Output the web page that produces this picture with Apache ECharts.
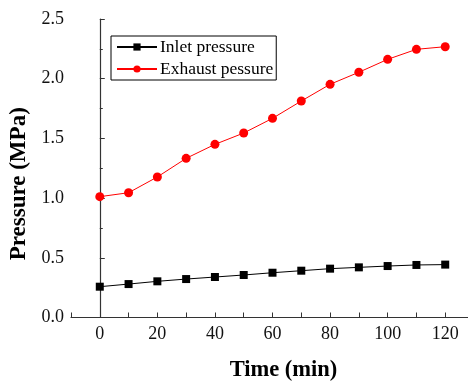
<!DOCTYPE html>
<html>
<head>
<meta charset="utf-8">
<script src="https://cdn.jsdelivr.net/npm/echarts@6/dist/echarts.min.js"></script>
<style>
  html, body {margin: 0; padding: 0; background: #fff;}
  #main {width: 468px; height: 383px;}
</style>
</head>
<body>
<div id="main"></div>
<script>
const times = [0, 10, 20, 30, 40, 50, 60, 70, 80, 90, 100, 110, 120];
const inletPressure = [0.258, 0.28, 0.303, 0.322, 0.339, 0.356, 0.375, 0.392, 0.409, 0.42, 0.431, 0.44, 0.443];
const exhaustPressure = [1.012, 1.045, 1.177, 1.333, 1.45, 1.545, 1.668, 1.813, 1.953, 2.054, 2.162, 2.246, 2.268];

const font = "'Liberation Serif', 'Times New Roman', serif";
const axisColor = '#333';

const pairs = (ys) => times.map((t, i) => [t, ys[i]]);

const chart = echarts.init(document.getElementById('main'), null, {renderer: 'canvas'});

chart.setOption({
  animation: false,
  textStyle: {fontFamily: font},
  grid: {left: 71, top: 19, right: -6, bottom: 65.5, containLabel: false, outerBoundsMode: 'none'},
  legend: {
    orient: 'vertical',
    left: 111,
    top: 36,
    borderColor: '#000',
    borderWidth: 1,
    padding: [2, 3, 2, 5],
    itemGap: 4,
    itemWidth: 40,
    itemHeight: 9,
    textStyle: {fontFamily: font, fontSize: 17.5, color: '#000', padding: [0, 0, 0, -2]},
    data: ['Inlet pressure', 'Exhaust pessure']
  },
  xAxis: {
    type: 'value',
    min: -10,
    max: 130,
    interval: 10,
    name: 'Time (min)',
    nameLocation: 'middle',
    nameGap: 41,
    nameTextStyle: {fontFamily: font, fontSize: 22.5, fontWeight: 'bold', color: '#000', padding: [0, 0, 0, 22]},
    axisLine: {lineStyle: {color: axisColor, width: 1.2}},
    axisTick: {inside: true, length: 5, lineStyle: {color: axisColor}},
    axisLabel: {
      fontFamily: font, fontSize: 18, color: '#111', margin: 8,
      formatter: (v) => (v >= 0 && v <= 120 && v % 20 === 0) ? String(v) : ''
    },
    splitLine: {show: false}
  },
  yAxis: {
    type: 'value',
    min: 0,
    max: 2.5,
    interval: 0.5,
    name: 'Pressure (MPa)',
    nameLocation: 'middle',
    nameGap: 36,
    nameTextStyle: {fontFamily: font, fontSize: 23, fontWeight: 'bold', color: '#000', padding: [0, 31, 0, 0]},
    axisLine: {show: true, lineStyle: {color: axisColor, width: 1.2}},
    axisTick: {show: true, inside: true, length: 5, lineStyle: {color: axisColor}},
    minorTick: {show: true, splitNumber: 2, length: 3, lineStyle: {color: axisColor}},
    axisLabel: {
      fontFamily: font, fontSize: 18, color: '#111', margin: 7,
      formatter: (v) => v.toFixed(1)
    },
    splitLine: {show: false}
  },
  series: [
    {
      name: 'Inlet pressure',
      type: 'line',
      data: pairs(inletPressure),
      symbol: 'rect',
      symbolSize: 8,
      itemStyle: {color: '#000'},
      lineStyle: {color: '#000', width: 1}
    },
    {
      name: 'Exhaust pessure',
      type: 'line',
      data: pairs(exhaustPressure),
      symbol: 'circle',
      symbolSize: 9,
      itemStyle: {color: '#ff0000'},
      lineStyle: {color: '#ff0000', width: 1}
    }
  ]
});
</script>
</body>
</html>
